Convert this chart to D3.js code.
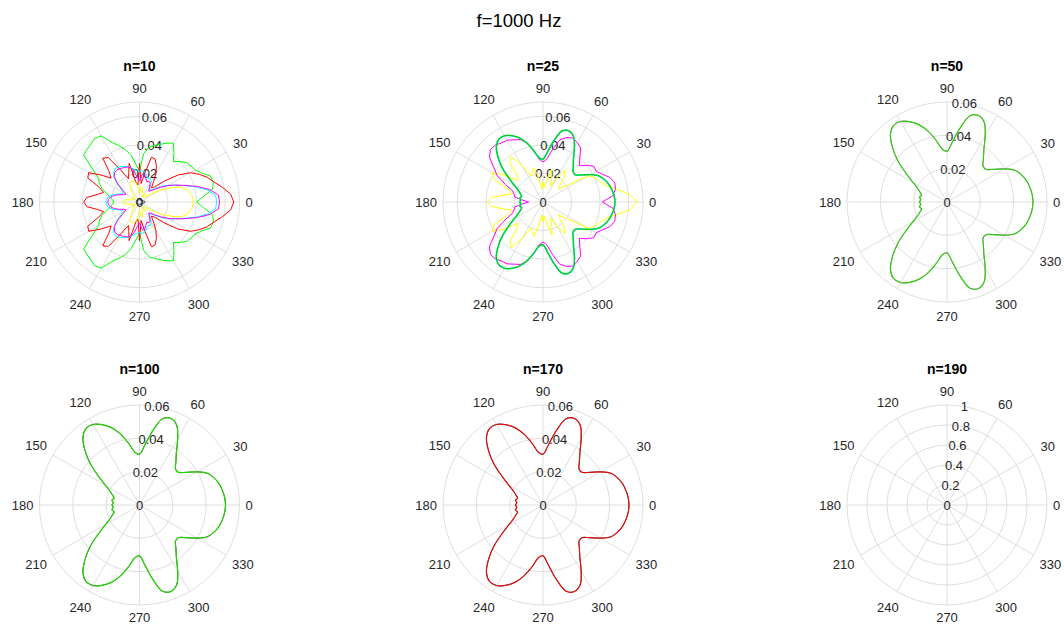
<!DOCTYPE html>
<html>
<head>
<meta charset="utf-8">
<script src="https://cdn.jsdelivr.net/npm/d3@7"></script>
<style>
  body { margin: 0; background: #ffffff; }
  svg { display: block; }
  text { font-family: "Liberation Sans", Arial, Helvetica, sans-serif; }
</style>
</head>
<body>
<svg id="chart" width="1064" height="625"></svg>
<script>
// ---- chart text ----
const figureTitle = "f=1000 Hz";
const panelTitles = ["n=10", "n=25", "n=50", "n=100", "n=170", "n=190"];

// ---- angular axis (degrees, counter-clockwise from east) ----
const thetaTicks = [0, 30, 60, 90, 120, 150, 180, 210, 240, 270, 300, 330];
const thetaTickLabels = ["0", "30", "60", "90", "120", "150", "180", "210", "240", "270", "300", "330"];

// sample angles of every pattern below, 0..355 deg in 5 deg steps
const angles = d3.range(0, 360, 5);

// ---- radial axes ----
const rLimits = [0.07, 0.07, 0.06, 0.06, 0.06, 1];
const rTicksSmall = [0, 0.02, 0.04, 0.06];
const rTickLabelsSmall = ["0", "0.02", "0.04", "0.06"];
const rTicksUnit = [0, 0.2, 0.4, 0.6, 0.8, 1];
const rTickLabelsUnit = ["0", "0.2", "0.4", "0.6", "0.8", "1"];

// ---- radiation patterns (one value per angle) ----
const n10Green = [0.0400,0.0450,0.0520,0.0535,0.0530,0.0480,0.0450,0.0440,0.0430,0.0400,0.0370,0.0420,0.0475,0.0455,0.0430,0.0410,0.0390,0.0340,0.0220,0.0260,0.0330,0.0380,0.0420,0.0460,0.0535,0.0545,0.0530,0.0520,0.0510,0.0400,0.0330,0.0310,0.0280,0.0240,0.0210,0.0190,0.0180,
  0.0190,0.0210,0.0240,0.0280,0.0310,0.0330,0.0400,0.0510,0.0520,0.0530,0.0545,0.0535,0.0460,0.0420,0.0380,0.0330,0.0260,0.0220,0.0340,0.0390,0.0410,0.0430,0.0455,0.0475,0.0420,0.0370,0.0400,0.0430,0.0440,0.0450,0.0480,0.0530,0.0535,0.0520,0.0450];

const n10Red = [0.0660,0.0640,0.0590,0.0540,0.0505,0.0460,0.0410,0.0330,0.0230,0.0150,0.0130,0.0170,0.0230,0.0280,0.0320,0.0325,0.0200,0.0130,0.0270,0.0120,0.0140,0.0280,0.0220,0.0180,0.0250,0.0380,0.0400,0.0300,0.0260,0.0330,0.0410,0.0400,0.0300,0.0260,0.0300,0.0370,0.0390,
  0.0370,0.0300,0.0260,0.0300,0.0400,0.0410,0.0330,0.0260,0.0300,0.0400,0.0380,0.0250,0.0180,0.0220,0.0280,0.0140,0.0120,0.0270,0.0130,0.0200,0.0325,0.0320,0.0280,0.0230,0.0170,0.0130,0.0150,0.0230,0.0330,0.0410,0.0460,0.0505,0.0540,0.0590,0.0640];

const n10Cyan = [0.0540,0.0535,0.0485,0.0410,0.0335,0.0280,0.0235,0.0190,0.0150,0.0120,0.0110,0.0130,0.0165,0.0180,0.0175,0.0190,0.0215,0.0220,0.0215,0.0220,0.0235,0.0250,0.0265,0.0275,0.0285,0.0290,0.0280,0.0255,0.0210,0.0160,0.0130,0.0135,0.0160,0.0195,0.0220,0.0232,0.0235,
  0.0232,0.0220,0.0195,0.0160,0.0135,0.0130,0.0160,0.0210,0.0255,0.0280,0.0290,0.0285,0.0275,0.0265,0.0250,0.0235,0.0220,0.0215,0.0220,0.0215,0.0190,0.0175,0.0180,0.0165,0.0130,0.0110,0.0120,0.0150,0.0190,0.0235,0.0280,0.0335,0.0410,0.0485,0.0535];

const n10Magenta = [0.0560,0.0555,0.0500,0.0420,0.0340,0.0280,0.0230,0.0180,0.0140,0.0110,0.0100,0.0120,0.0150,0.0160,0.0150,0.0170,0.0200,0.0190,0.0150,0.0170,0.0220,0.0250,0.0260,0.0265,0.0270,0.0275,0.0270,0.0250,0.0200,0.0140,0.0110,0.0120,0.0150,0.0180,0.0205,0.0218,0.0222,
  0.0218,0.0205,0.0180,0.0150,0.0120,0.0110,0.0140,0.0200,0.0250,0.0270,0.0275,0.0270,0.0265,0.0260,0.0250,0.0220,0.0170,0.0150,0.0190,0.0200,0.0170,0.0150,0.0160,0.0150,0.0120,0.0100,0.0110,0.0140,0.0180,0.0230,0.0280,0.0340,0.0420,0.0500,0.0555];

const n10Yellow = [0.0376,0.0372,0.0360,0.0340,0.0300,0.0230,0.0160,0.0100,0.0060,0.0040,0.0050,0.0070,0.0060,0.0040,0.0050,0.0080,0.0110,0.0090,0.0060,0.0090,0.0130,0.0150,0.0155,0.0150,0.0130,0.0100,0.0070,0.0050,0.0040,0.0050,0.0060,0.0050,0.0040,0.0060,0.0090,0.0110,0.0120,
  0.0110,0.0090,0.0060,0.0040,0.0050,0.0060,0.0050,0.0040,0.0050,0.0070,0.0100,0.0130,0.0150,0.0155,0.0150,0.0130,0.0090,0.0060,0.0090,0.0110,0.0080,0.0050,0.0040,0.0060,0.0070,0.0050,0.0040,0.0060,0.0100,0.0160,0.0230,0.0300,0.0340,0.0360,0.0372];

const n10Black = [0.0040,0.0038,0.0034,0.0028,0.0022,0.0018,0.0015,0.0014,0.0015,0.0018,0.0020,0.0018,0.0015,0.0016,0.0020,0.0022,0.0020,0.0018,0.0020,0.0022,0.0024,0.0025,0.0024,0.0022,0.0020,0.0018,0.0016,0.0017,0.0019,0.0021,0.0022,0.0021,0.0020,0.0021,0.0023,0.0024,0.0025,
  0.0024,0.0023,0.0021,0.0020,0.0021,0.0022,0.0021,0.0019,0.0017,0.0016,0.0018,0.0020,0.0022,0.0024,0.0025,0.0024,0.0022,0.0020,0.0018,0.0020,0.0022,0.0020,0.0016,0.0015,0.0018,0.0020,0.0018,0.0015,0.0014,0.0015,0.0018,0.0022,0.0028,0.0034,0.0038];

const n25Yellow = [0.0660,0.0610,0.0520,0.0450,0.0420,0.0400,0.0370,0.0200,0.0140,0.0170,0.0230,0.0270,0.0200,0.0120,0.0180,0.0240,0.0150,0.0100,0.0140,0.0090,0.0170,0.0250,0.0220,0.0200,0.0300,0.0390,0.0360,0.0250,0.0230,0.0330,0.0410,0.0380,0.0260,0.0220,0.0280,0.0360,0.0390,
  0.0360,0.0280,0.0220,0.0260,0.0380,0.0410,0.0330,0.0230,0.0250,0.0360,0.0390,0.0300,0.0200,0.0220,0.0250,0.0170,0.0090,0.0140,0.0100,0.0150,0.0240,0.0180,0.0120,0.0200,0.0270,0.0230,0.0170,0.0140,0.0200,0.0370,0.0400,0.0420,0.0450,0.0520,0.0610];

const n25Magenta = [0.0415,0.0490,0.0515,0.0520,0.0500,0.0460,0.0430,0.0435,0.0400,0.0360,0.0400,0.0460,0.0480,0.0495,0.0480,0.0450,0.0370,0.0300,0.0280,0.0300,0.0360,0.0430,0.0465,0.0480,0.0500,0.0505,0.0520,0.0520,0.0490,0.0420,0.0370,0.0290,0.0225,0.0210,0.0200,0.0140,0.0100,
  0.0140,0.0200,0.0210,0.0225,0.0290,0.0370,0.0420,0.0490,0.0520,0.0520,0.0505,0.0500,0.0480,0.0465,0.0430,0.0360,0.0300,0.0280,0.0300,0.0370,0.0450,0.0480,0.0495,0.0480,0.0460,0.0400,0.0360,0.0400,0.0435,0.0430,0.0460,0.0500,0.0520,0.0515,0.0490];

const n25Green = [0.0504,0.0500,0.0490,0.0477,0.0458,0.0432,0.0384,0.0330,0.0296,0.0298,0.0330,0.0372,0.0440,0.0505,0.0530,0.0515,0.0435,0.0350,0.0300,0.0310,0.0362,0.0424,0.0476,0.0512,0.0536,0.0538,0.0508,0.0446,0.0372,0.0292,0.0230,0.0190,0.0168,0.0155,0.0165,0.0156,0.0163,
  0.0156,0.0165,0.0155,0.0168,0.0190,0.0230,0.0292,0.0372,0.0446,0.0508,0.0538,0.0536,0.0512,0.0476,0.0424,0.0362,0.0310,0.0300,0.0350,0.0435,0.0515,0.0530,0.0505,0.0440,0.0372,0.0330,0.0298,0.0296,0.0330,0.0384,0.0432,0.0458,0.0477,0.0490,0.0500];

// converged pattern shared by n=50, n=100 and n=170
const converged = [0.0516,0.0513,0.0505,0.0494,0.0476,0.0450,0.0398,0.0342,0.0305,0.0306,0.0340,0.0386,0.0458,0.0528,0.0552,0.0536,0.0450,0.0360,0.0305,0.0318,0.0376,0.0440,0.0494,0.0532,0.0558,0.0560,0.0528,0.0462,0.0385,0.0300,0.0236,0.0195,0.0172,0.0158,0.0168,0.0158,0.0165,
  0.0158,0.0168,0.0158,0.0172,0.0195,0.0236,0.0300,0.0385,0.0462,0.0528,0.0560,0.0558,0.0532,0.0494,0.0440,0.0376,0.0318,0.0305,0.0360,0.0450,0.0536,0.0552,0.0528,0.0458,0.0386,0.0340,0.0306,0.0305,0.0342,0.0398,0.0450,0.0476,0.0494,0.0505,0.0513];

// ---- panel definitions ----
const panels = [
  { title: panelTitles[0], rMax: rLimits[0], ticks: rTicksSmall, tickLabels: rTickLabelsSmall,
    series: [
      { color: "#00ff00", values: n10Green, smooth: false },
      { color: "#ff0000", values: n10Red, smooth: false },
      { color: "#00ffff", values: n10Cyan, smooth: false },
      { color: "#ff00ff", values: n10Magenta, smooth: false },
      { color: "#ffff00", values: n10Yellow, smooth: true },
      { color: "#000000", values: n10Black, smooth: false, width: 0.7 }
    ] },
  { title: panelTitles[1], rMax: rLimits[1], ticks: rTicksSmall, tickLabels: rTickLabelsSmall,
    series: [
      { color: "#ffff00", values: n25Yellow, smooth: false },
      { color: "#ff00ff", values: n25Magenta, smooth: false },
      { color: "#00ffff", values: n25Green, smooth: true, width: 1.6 },
      { color: "#14c814", values: n25Green, smooth: true, width: 1.3 }
    ] },
  { title: panelTitles[2], rMax: rLimits[2], ticks: rTicksSmall, tickLabels: rTickLabelsSmall,
    series: [
      { color: "#ff00ff", values: converged, smooth: true, width: 0.7 },
      { color: "#22d400", values: converged, smooth: true, width: 1.2 }
    ] },
  { title: panelTitles[3], rMax: rLimits[3], ticks: rTicksSmall, tickLabels: rTickLabelsSmall,
    series: [
      { color: "#000000", values: converged, smooth: true, width: 0.7 },
      { color: "#22d400", values: converged, smooth: true, width: 1.2 }
    ] },
  { title: panelTitles[4], rMax: rLimits[4], ticks: rTicksSmall, tickLabels: rTickLabelsSmall,
    series: [
      { color: "#000000", values: converged, smooth: true, width: 0.7 },
      { color: "#e01010", values: converged, smooth: true, width: 1.2 }
    ] },
  { title: panelTitles[5], rMax: rLimits[5], ticks: rTicksUnit, tickLabels: rTickLabelsUnit,
    series: [] }
];

// ---- layout ----
const colX = [139.5, 543, 947];
const rowY = [202, 505];
const R = 100;
const bottomLimit = 617;
const gridColor = "#dedede";
const textColor = "#262626";
const rad = d => d * Math.PI / 180;

const svg = d3.select("#chart");

svg.append("text")
  .attr("x", 519).attr("y", 20)
  .attr("text-anchor", "middle").attr("dominant-baseline", "central")
  .attr("font-size", 18.5).attr("fill", "#000")
  .text(figureTitle);

panels.forEach((p, i) => {
  const cx = colX[i % 3], cy = rowY[Math.floor(i / 3)];
  const g = svg.append("g").attr("transform", `translate(${cx},${cy})`);
  const r = d3.scaleLinear().domain([0, p.rMax]).range([0, R]);

  // rings
  g.selectAll("circle.ring")
    .data(p.ticks.filter(t => t > 0 && t < p.rMax - 1e-9).concat([p.rMax]))
    .join("circle")
    .attr("r", d => r(d))
    .attr("fill", "none").attr("stroke", gridColor).attr("stroke-width", 1);

  // spokes
  g.selectAll("line.spoke")
    .data(thetaTicks)
    .join("line")
    .attr("x1", 0).attr("y1", 0)
    .attr("x2", d => R * Math.cos(rad(d)))
    .attr("y2", d => -R * Math.sin(rad(d)))
    .attr("stroke", gridColor).attr("stroke-width", 1);

  // angle labels
  thetaTicks.forEach((t, k) => {
    const lbl = g.append("text")
      .attr("font-size", 13).attr("fill", textColor)
      .attr("text-anchor", "middle").attr("dominant-baseline", "central")
      .text(thetaTickLabels[k]);
    const w = lbl.node().getComputedTextLength();
    const c = Math.cos(rad(t)), s = Math.sin(rad(t));
    const d = R + 6 + Math.abs(c) * w / 2 + Math.abs(s) * 8;
    const y = Math.min(-d * s, bottomLimit - cy);
    lbl.attr("x", d * c).attr("y", y);
  });

  // radial tick labels along 80 deg
  p.ticks.forEach((t, k) => {
    const rr = r(t);
    g.append("text")
      .attr("x", rr * Math.cos(rad(80)))
      .attr("y", -rr * Math.sin(rad(80)))
      .attr("font-size", 13).attr("fill", textColor)
      .attr("text-anchor", "middle").attr("dominant-baseline", "central")
      .text(p.tickLabels[k]);
  });

  // patterns
  p.series.forEach(s => {
    const line = d3.lineRadial()
      .angle((v, j) => Math.PI / 2 - rad(angles[j]))
      .radius(v => r(v))
      .curve(s.smooth ? d3.curveCatmullRomClosed.alpha(0.5) : d3.curveLinearClosed);
    g.append("path")
      .attr("d", line(s.values))
      .attr("fill", "none")
      .attr("stroke", s.color)
      .attr("stroke-width", s.width || 1)
      .attr("stroke-linejoin", "round");
  });

  // panel title
  g.append("text")
    .attr("x", 0).attr("y", -R - 36)
    .attr("text-anchor", "middle").attr("dominant-baseline", "central")
    .attr("font-size", 14).attr("font-weight", "bold").attr("fill", "#000")
    .text(p.title);
});
</script>
</body>
</html>
